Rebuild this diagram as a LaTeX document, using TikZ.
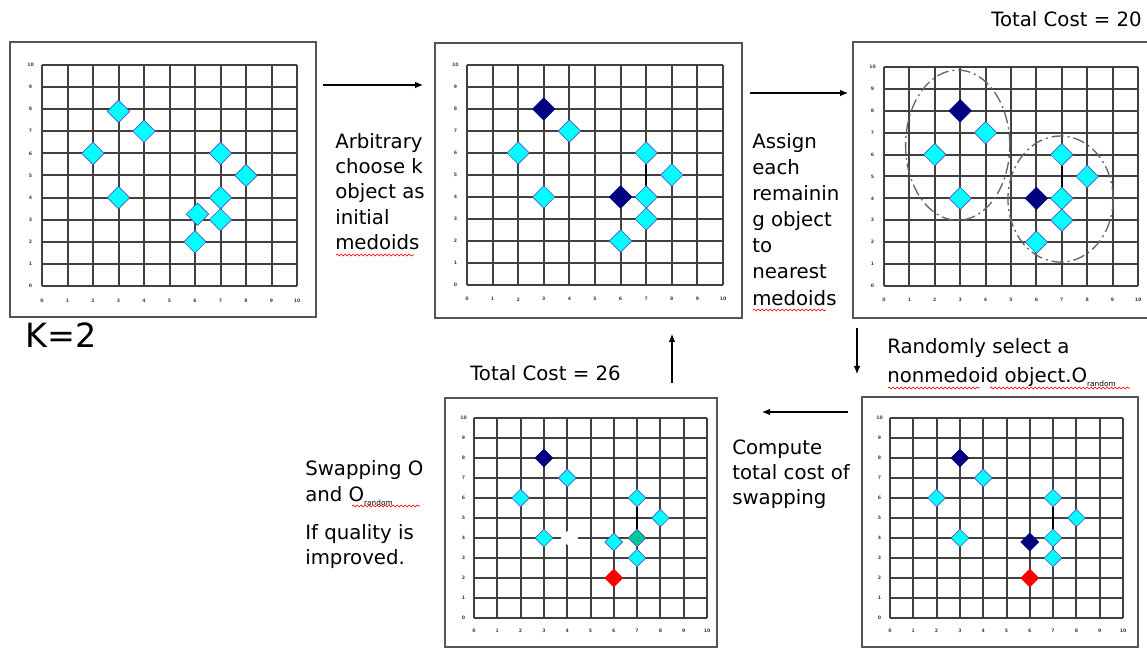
\documentclass[tikz,border=0pt]{standalone}
\usepackage{fontspec}
\setmainfont{DejaVu Sans}
\usetikzlibrary{shapes.geometric,decorations.pathmorphing,arrows.meta}

\definecolor{aqua}{RGB}{0,255,255}
\definecolor{navy}{RGB}{0,0,128}
\definecolor{seagreen}{RGB}{0,200,150}
\definecolor{rimblue}{RGB}{80,80,200}
\definecolor{framegray}{RGB}{85,85,85}

% grid with its axis numbers, in data units of the scope
\newcommand{\kgrid}{%
  \draw[gridline] (0,0) grid[step=1] (10,10);
  \foreach \i in {0,...,10} {
    \node[tick] (yl\i) at (-0.45,\i) {\i};
    \node[tick] (xl\i) at (\i,-0.65) {\i};
  }}

\begin{document}
\begin{tikzpicture}[x=0.75pt, y=-0.75pt,
    gridline/.style={black!75, line width=1.5pt},
    tick/.style={font=\fontsize{3.5}{4}\selectfont\bfseries, text=black!75, inner sep=0},
    frame/.style={framegray, line width=1.5pt},
    obj/.style={diamond, draw=rimblue, fill=aqua, line width=0.5pt, inner sep=0, minimum size=17pt},
    small/.style={minimum size=13.5pt},
    medoid/.style={obj, fill=navy, draw=navy},
    random/.style={obj, fill=red, draw=red},
    swapped/.style={obj, fill=seagreen},
    hole/.style={diamond, fill=white, inner sep=0, minimum size=13.5pt},
    link/.style={black, line width=1.8pt},
    ring/.style={black!60, line width=1pt, dash pattern=on 9pt off 3pt on 1.5pt off 3pt},
    flow/.style={-{Latex[length=6pt,width=5pt]}, line width=0.8pt},
    label/.style={font=\fontsize{14.8}{19}\selectfont, align=left, inner sep=0},
    wavy/.style={red, line width=0.5pt, decorate, decoration={snake, amplitude=0.7pt, segment length=3pt}}]

\useasboundingbox (0,0) rectangle (1147,648);

% frames
\draw[frame] (10,42) rectangle (316,317);
\draw[frame] (435,43) rectangle (742,318);
\draw[frame] (853,42) rectangle (1150,318);
\draw[frame] (445,398) rectangle (717,647);
\draw[frame] (862,397) rectangle (1138,647);

% panel 1: the data
\begin{scope}[shift={(42,286)}, x=19.125pt, y=16.575pt]
  \kgrid
  \foreach \px/\py [count=\k] in {3/7.9,4/7,2/6,3/4,7/6,8/5,7/4,6.1/3.25,7/3,6/2}
    \node[obj] (a\k) at (\px,\py) {};
\end{scope}

% panel 2: two medoids chosen
\begin{scope}[shift={(467,285)}, x=19.2pt, y=16.5pt]
  \kgrid
  \node[medoid] (b1) at (3,8) {};
  \node[obj] (b2) at (4,7) {};
  \node[obj] (b3) at (2,6) {};
  \node[obj] (b4) at (3,4) {};
  \node[obj] (b5) at (7,6) {};
  \node[obj] (b6) at (8,5) {};
  \node[medoid] (b7) at (6,4) {};
  \node[obj] (b8) at (7,4) {};
  \node[obj] (b9) at (7,3) {};
  \node[obj] (b10) at (6,2) {};
  \draw[link] (b5.south) -- (b8.north);
\end{scope}

% panel 3: clusters
\begin{scope}[shift={(884,286)}, x=19.05pt, y=16.425pt]
  \kgrid
  \draw[ring] (2.9,6.43) ellipse (2.05 and 3.43);
  \draw[ring] (6.95,3.97) ellipse (2.07 and 2.88);
  \node[medoid] (c1) at (3,8) {};
  \node[obj] (c2) at (4,7) {};
  \node[obj] (c3) at (2,6) {};
  \node[obj] (c4) at (3,4) {};
  \node[obj] (c5) at (7,6) {};
  \node[obj] (c6) at (8,5) {};
  \node[medoid] (c7) at (6,4) {};
  \node[obj] (c8) at (7,4) {};
  \node[obj] (c9) at (7,3) {};
  \node[obj] (c10) at (6,2) {};
  \draw[link] (c5.south) -- (c8.north);
\end{scope}

% panel 4: after swapping
\begin{scope}[shift={(474,618)}, x=17.475pt, y=15pt]
  \kgrid
  \node[hole] (d0) at (4.1,4) {};
  \node[medoid, small] (d1) at (3,8) {};
  \node[obj, small] (d2) at (4,7) {};
  \node[obj, small] (d3) at (2,6) {};
  \node[obj, small] (d4) at (3,4) {};
  \node[obj, small] (d5) at (7,6) {};
  \node[obj, small] (d6) at (8,5) {};
  \node[obj, small] (d7) at (6,3.8) {};
  \node[swapped, small] (d8) at (7,4) {};
  \node[obj, small] (d9) at (7,3) {};
  \node[random, small] (d10) at (6,2) {};
  \draw[link] (d5.south) -- (d8.north);
\end{scope}

% panel 5: random nonmedoid
\begin{scope}[shift={(890,618)}, x=17.475pt, y=15pt]
  \kgrid
  \node[medoid, small] (e1) at (3,8) {};
  \node[obj, small] (e2) at (4,7) {};
  \node[obj, small] (e3) at (2,6) {};
  \node[obj, small] (e4) at (3,4) {};
  \node[obj, small] (e5) at (7,6) {};
  \node[obj, small] (e6) at (8,5) {};
  \node[medoid, small] (e7) at (6,3.8) {};
  \node[obj, small] (e8) at (7,4) {};
  \node[obj, small] (e9) at (7,3) {};
  \node[random, small] (e10) at (6,2) {};
  \draw[link, line width=1.1pt] (e5.south) -- (e8.north);
\end{scope}

% arrows between the steps
\coordinate (s1) at (323,85);
\coordinate (t1) at (423,85);
\coordinate (s2) at (750,93);
\coordinate (t2) at (848,93);
\coordinate (s3) at (857,328);
\coordinate (t3) at (857,374);
\coordinate (s4) at (848,412);
\coordinate (t4) at (762,412);
\coordinate (s5) at (672,383);
\coordinate (t5) at (672,334);
\draw[flow] (s1) -- (t1);
\draw[flow] (s2) -- (t2);
\draw[flow] (s3) -- (t3);
\draw[flow] (s4) -- (t4);
\draw[flow] (s5) -- (t5);

% texts (multi-line nodes sit on the baseline of their last line)
\node[label, anchor=north west] (choose) at (335,133)
  {Arbitrary\\choose k\\object as\\initial\\medoids};
\node[label, anchor=north west, font=\fontsize{14.8}{19.6}\selectfont] (assign) at (752,133)
  {Assign\\each\\remainin\\g object\\to\\nearest\\medoids};
\node[label, anchor=base east] (cost20) at (1142,27) {Total Cost = 20};
\node[label, anchor=base west] (cost26) at (470,381) {Total Cost = 26};
\node[anchor=base west, inner sep=0, font=\fontsize{25}{25}\selectfont] (kval) at (25,348) {K=2};
\node[label, anchor=base west, font=\fontsize{14.8}{22}\selectfont] (select) at (887,383)
  {Randomly select a\\nonmedoid object.O\raisebox{-3pt}{\fontsize{5.5}{6}\selectfont random}};
\node[label, anchor=base west] (compute) at (732,505)
  {Compute\\total cost of\\swapping};
\node[label, anchor=base west, font=\fontsize{14.8}{20}\selectfont] (swap) at (305,502)
  {Swapping O\\and O\raisebox{-3pt}{\fontsize{5.5}{6}\selectfont random}};
\node[label, anchor=base west] (quality) at (305,565)
  {If quality is\\improved.};

% spelling marks
\draw[wavy] (336,255) -- (414,255);
\draw[wavy] (753,310) -- (826,310);
\draw[wavy] (888,388) -- (980,388);
\draw[wavy] (990,388) -- (1130,388);
\draw[wavy] (352,506) -- (420,506);
\end{tikzpicture}
\end{document}
